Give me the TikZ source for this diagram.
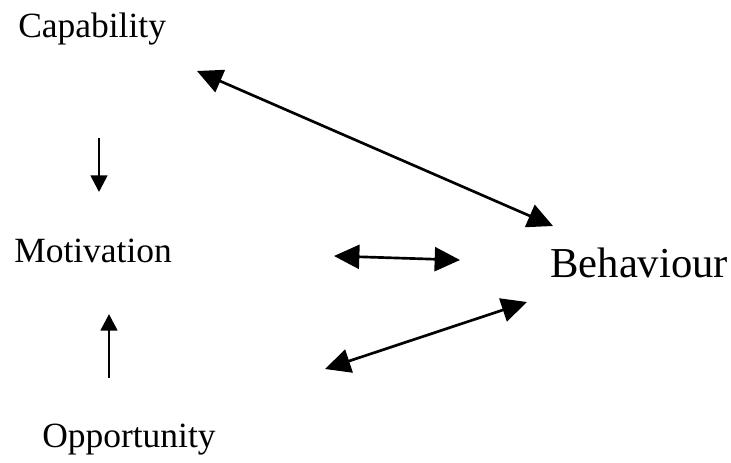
\documentclass[tikz,border=0pt]{standalone}
\usepackage{fontspec}
\setmainfont{Liberation Serif}
\usetikzlibrary{arrows.meta}
\tikzset{
  lbl/.style={anchor=base west,inner sep=0pt,font=\fontsize{26.6pt}{30pt}\selectfont},
  bigtip/.style={line width=2pt,{Triangle[length=19pt,width=18pt]}-{Triangle[length=19pt,width=18pt]}},
  uptip/.style={line width=2pt,-{Triangle[length=12.5pt,width=12.5pt]}}
}

\begin{document}
\begin{tikzpicture}[x=0.75pt,y=-0.75pt]
            \useasboundingbox (0,0) rectangle (731,462);
            \node[lbl] (cap) at (18,37) {Capability};
            \node[lbl] (mot) at (14,262) {Motivation};
            \node[lbl] (opp) at (42,447) {Opportunity};
            \node[lbl,font=\fontsize{32pt}{36pt}\selectfont] (beh) at (550,277) {Behaviour};

            % arrow ends
            \coordinate (cap-r) at (197,71);
            \coordinate (beh-tl) at (553,226);
            \coordinate (cap-d) at (99,138);
            \coordinate (mot-u) at (99,192);
            \coordinate (mot-r) at (334,256);
            \coordinate (beh-l) at (460,260);
            \coordinate (opp-u) at (109,378);
            \coordinate (mot-d) at (109,314);
            \coordinate (opp-r) at (325,369);
            \coordinate (beh-bl) at (527,302);

            \draw [bigtip] (cap-r) -- (beh-tl);
            \draw [bigtip] (mot-r) -- (beh-l);
            \draw [bigtip] (opp-r) -- (beh-bl);
            \draw [uptip] (cap-d) -- (mot-u);
            \draw [uptip] (opp-u) -- (mot-d);
        \end{tikzpicture}
\end{document}
